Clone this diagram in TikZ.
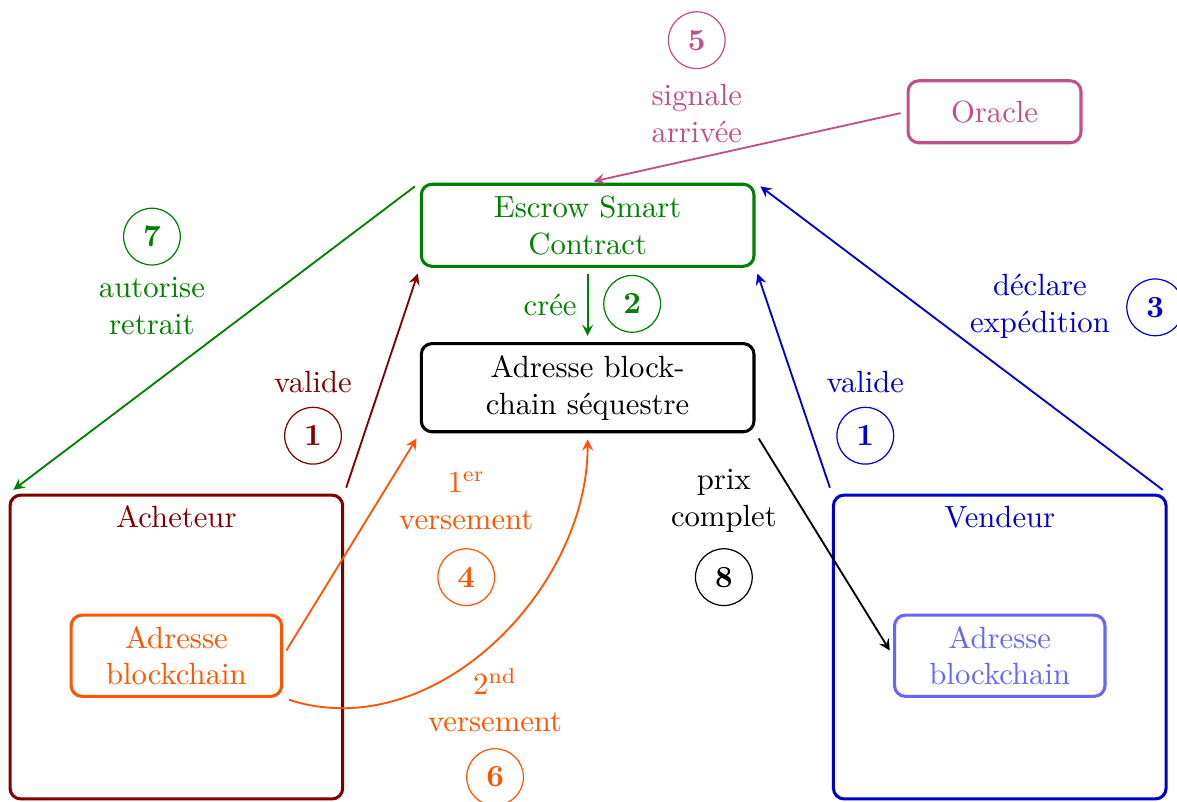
\documentclass[tikz,border=0pt]{standalone}
\definecolor{bordeaux}{RGB}{128,0,0}
\definecolor{orangeA}{RGB}{255,85,0}
\definecolor{vert}{RGB}{0,128,0}
\definecolor{bleu}{RGB}{0,0,204}
\definecolor{bleuclair}{RGB}{102,102,255}
\definecolor{rose}{RGB}{192,79,138}
\begin{document}
\begin{tikzpicture}[
  box/.style={draw=#1,text=#1,line width=1pt,rounded corners=3.5pt,align=center},
  num/.style={draw=#1,text=#1,circle,thin,minimum size=0.65cm,inner sep=0pt,font=\bfseries},
  lbl/.style={text=#1,align=center},
  arr/.style={draw=#1,-stealth,semithick,shorten <=2pt,shorten >=2pt}]
\useasboundingbox (0,0) rectangle (13.48,-9.175);
%boxes
\node[box=vert,minimum width=3.81cm,minimum height=0.94cm](escrow) at (6.73,-2.58){Escrow Smart\\Contract};
\node[box=black,minimum width=3.81cm,minimum height=1.01cm](sequestre) at (6.73,-4.44){Adresse block-\\chain séquestre};
\node[box=rose,minimum width=1.98cm,minimum height=0.71cm](oracle) at (11.39,-1.28){Oracle};
\node[box=bordeaux,minimum width=3.81cm,minimum height=3.48cm](acheteur) at (2.02,-7.41){};
\node[lbl=bordeaux,below,yshift=-0.5pt](achName) at (acheteur.north){Acheteur};
\node[box=bleu,minimum width=3.81cm,minimum height=3.48cm](vendeur) at (11.45,-7.41){};
\node[lbl=bleu,below,yshift=-0.5pt](venName) at (vendeur.north){Vendeur};
\node[box=orangeA,minimum width=2.41cm,minimum height=0.93cm](adrA) at (2.02,-7.51){Adresse\\blockchain};
\node[box=bleuclair,minimum width=2.41cm,minimum height=0.93cm](adrV) at (11.45,-7.51){Adresse\\blockchain};
%steps
\node[num=rose](n5) at (7.98,-0.46){5};
\node[lbl=rose](t5) at (7.98,-1.30){signale\\arrivée};
\node[num=vert](n7) at (1.74,-2.71){7};
\node[lbl=vert](t7) at (1.74,-3.51){autorise\\retrait};
\node[num=vert](n2) at (7.24,-3.48){2};
\node[lbl=vert](t2) at (6.30,-3.49){crée};
\node[num=bleu](n3) at (13.23,-3.52){3};
\node[lbl=bleu](t3) at (11.91,-3.51){déclare\\expédition};
\node[num=bordeaux](n1a) at (3.585,-4.99){1};
\node[lbl=bordeaux](t1a) at (3.585,-4.38){valide};
\node[num=bleu](n1v) at (9.91,-4.99){1};
\node[lbl=bleu](t1v) at (9.91,-4.38){valide};
\node[num=orangeA](n4) at (5.34,-6.61){4};
\node[lbl=orangeA](t4) at (5.34,-5.74){1\textsuperscript{er}\\versement};
\node[num=black](n8) at (8.29,-6.61){8};
\node[lbl=black](t8) at (8.29,-5.74){prix\\complet};
\node[num=orangeA](n6) at (5.67,-8.90){6};
\node[lbl=orangeA](t6) at (5.67,-8.02){2\textsuperscript{nd}\\versement};
%arrows
\draw[arr=rose](oracle.west)--(escrow.north);
\draw[arr=vert](escrow.north west)--(acheteur.north west);
\draw[arr=vert](escrow.south)--(sequestre.north);
\draw[arr=bordeaux](acheteur.north east)--(escrow.south west);
\draw[arr=orangeA](adrA.east)--(sequestre.south west);
\draw[arr=orangeA](adrA.south east) to[out=-18,in=-90](sequestre.south);
\draw[arr=bleu](vendeur.north west)--(escrow.south east);
\draw[arr=bleu](vendeur.north east)--(escrow.north east);
\draw[arr=black](sequestre.south east)--(adrV.west);
\end{tikzpicture}
\end{document}
